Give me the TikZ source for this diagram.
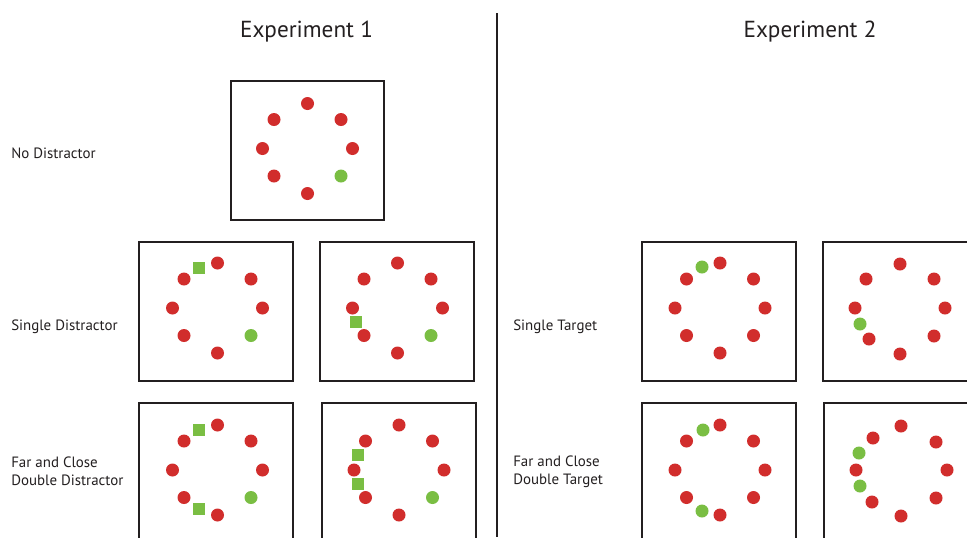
\documentclass[tikz,border=0pt]{standalone}
\usepackage{fontspec}
\setmainfont{PT Sans}
\usepackage{tikz}
\definecolor{stimred}{RGB}{209,45,44}
\definecolor{stimgreen}{RGB}{122,190,67}
\definecolor{ink}{RGB}{35,31,32}
\tikzset{frame/.style={draw=ink, line width=2.1pt}}
\tikzset{stim/.style={fill=stimred}, tgt/.style={fill=stimgreen}}
\tikzset{head/.style={font=\fontsize{17.4}{20}\selectfont, text=ink, inner sep=0pt}}
\tikzset{rowtext/.style={font=\fontsize{11.2}{13.5}\selectfont, text=ink, inner sep=0pt, anchor=west, align=left}}
% eight dots round (#1,#2), lower right one in style #3
\newcommand{\ring}[3]{%
  \begin{scope}[shift={(#1,#2)}]
    \foreach \dx/\dy in {0/-45, 33.5/-29, 45/0, 0/45, -33.5/27.5, -45/0, -33.5/-29} {
      \fill[stim] (\dx,\dy) circle [radius = 6.5];
    }
    \fill[#3] (33.5,27.5) circle [radius = 6.5];
  \end{scope}}
\newcommand{\sqr}[2]{\fill[tgt] (#1-6.25,#2-6.25) rectangle ++(12.5,12.5);}
\newcommand{\gdot}[2]{\fill[tgt] (#1,#2) circle [radius = 6.5];}

\begin{document}
\begin{tikzpicture}[x=0.75pt, y=-0.75pt]
  \useasboundingbox (0,0) rectangle (967,537);
  \clip (0,0) rectangle (967,537);
  \fill[white] (0,0) rectangle (967,537);

  \node[head] (exp1) at (306.5,31.5) {Experiment 1};
  \node[head] (exp2) at (810,31.5) {Experiment 2};
  \draw[ink, line width=0.8pt] (497,13) -- (497,537);

  \node[rowtext] (nodist) at (11,153.5) {No Distractor};
  \node[rowtext] (single) at (11,326.5) {Single Distractor};
  \node[rowtext] (double) at (11,471.5) {Far and Close\\Double Distractor};
  \node[rowtext] (singletgt) at (513,326.5) {Single Target};
  \node[rowtext] (doubletgt) at (513,471.5) {Far and Close\\Double Target};

  % experiment 1
  \draw[frame] (231,81) rectangle (384,220);
  \ring{307.5}{148.5}{tgt}
  \draw[frame] (139,242) rectangle (293,381);
  \ring{217.5}{308}{tgt}
  \sqr{199}{268}
  \draw[frame] (320,242) rectangle (474,381);
  \ring{397.5}{308}{tgt}
  \sqr{356}{322}
  \draw[frame] (139,403) rectangle (293,545);
  \ring{217.5}{470}{tgt}
  \sqr{199}{430}
  \sqr{199}{509}
  \draw[frame] (322,403) rectangle (476,545);
  \ring{399}{470}{tgt}
  \sqr{358}{455}
  \sqr{358}{484}

  % experiment 2
  \draw[frame] (642,242) rectangle (796,381);
  \ring{720}{308}{stim}
  \gdot{702}{267}
  \draw[frame] (823,242) rectangle (980,381);
  \foreach \px/\py in {900/264, 934/279, 945/308, 934/336, 900/354, 869/339, 855/308, 866/279} {
    \fill[stim] (\px,\py) circle [radius = 6.5];
  }
  \gdot{860}{324}
  \draw[frame] (642,403) rectangle (796,545);
  \ring{720}{470}{stim}
  \gdot{703}{430}
  \gdot{702}{511}
  \draw[frame] (824,403) rectangle (980,545);
  \foreach \px/\py in {901/426, 936/442, 947/470, 936/498, 901/516, 872/502, 856/470, 873/438} {
    \fill[stim] (\px,\py) circle [radius = 6.5];
  }
  \gdot{859}{453}
  \gdot{860}{486}
\end{tikzpicture}
\end{document}
